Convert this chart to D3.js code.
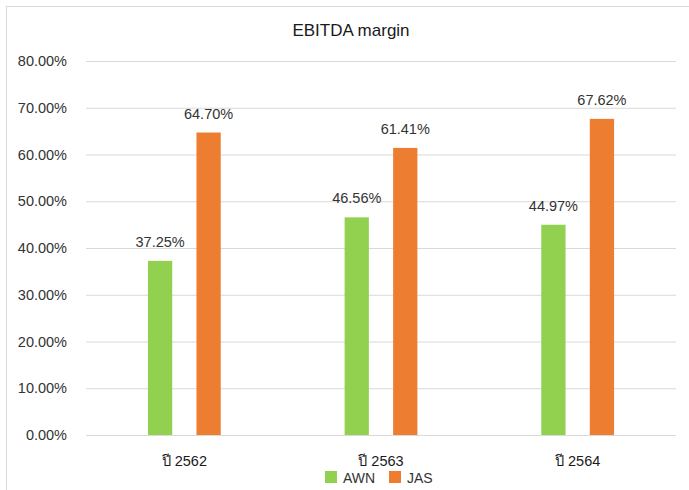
<!DOCTYPE html>
<html>
<head>
<meta charset="utf-8">
<script src="https://cdn.jsdelivr.net/npm/d3@7"></script>
<style>
  body { margin: 0; background: #fff; }
  svg text { font-family: "Liberation Sans", Arial, sans-serif; fill: #333333; }
</style>
</head>
<body>
<svg id="chart" width="689" height="490"></svg>
<script>
// chart data
const categories = ["ปี 2562", "ปี 2563", "ปี 2564"];
const seriesNames = ["AWN", "JAS"];
const awnValues = [37.25, 46.56, 44.97];
const jasValues = [64.70, 61.41, 67.62];
const yTicks = [0, 10, 20, 30, 40, 50, 60, 70, 80];
const colors = { AWN: "#92d050", JAS: "#ed7d31" };

const svg = d3.select("#chart");
const margin = { left: 86, right: 13, top: 61, bottom: 55 };
const W = 689, H = 490;

// outer frame (top + left edge only visible)
svg.append("line").attr("x1", 6).attr("x2", W).attr("y1", 6.5).attr("y2", 6.5)
    .attr("stroke", "#d9d9d9");
svg.append("line").attr("x1", 6.5).attr("x2", 6.5).attr("y1", 6).attr("y2", H)
    .attr("stroke", "#d9d9d9");

const x0 = d3.scaleBand()
    .domain(categories)
    .range([margin.left, W - margin.right])
    .paddingInner(0.63).paddingOuter(0.315);

const x1 = d3.scaleBand()
    .domain(seriesNames)
    .range([0, x0.bandwidth()])
    .paddingInner(0.5);

const y = d3.scaleLinear().domain([0, 80]).range([H - margin.bottom, margin.top]);

// gridlines
const yAxis = d3.axisLeft(y).tickValues(yTicks)
    .tickSize(-(W - margin.left - margin.right))
    .tickPadding(19)
    .tickFormat(d => d.toFixed(2) + "%");

const gy = svg.append("g").attr("transform", `translate(${margin.left},0)`).call(yAxis);
gy.select(".domain").remove();
gy.selectAll(".tick line").attr("stroke", "#d9d9d9");
gy.selectAll(".tick text").attr("font-size", 14.5).style("fill", "#333333");

const rows = categories.map((c, i) => ({ cat: c, AWN: awnValues[i], JAS: jasValues[i] }));

const groups = svg.append("g").selectAll("g")
    .data(rows).enter().append("g")
    .attr("transform", d => `translate(${x0(d.cat)},0)`);

groups.selectAll("rect")
    .data(d => seriesNames.map(s => ({ s, v: d[s] })))
    .enter().append("rect")
    .attr("x", d => x1(d.s))
    .attr("y", d => y(d.v))
    .attr("width", x1.bandwidth())
    .attr("height", d => y(0) - y(d.v))
    .attr("fill", d => colors[d.s]);

groups.selectAll("text.lbl")
    .data(d => seriesNames.map(s => ({ s, v: d[s] })))
    .enter().append("text")
    .attr("class", "lbl")
    .attr("x", d => x1(d.s) + x1.bandwidth() / 2)
    .attr("y", d => y(d.v) - 14)
    .attr("text-anchor", "middle")
    .attr("font-size", 14.5)
    .text(d => d.v.toFixed(2) + "%");

// category labels
svg.append("g").selectAll("text")
    .data(categories).enter().append("text")
    .attr("x", d => x0(d) + x0.bandwidth() / 2)
    .attr("y", 466)
    .attr("text-anchor", "middle")
    .attr("font-size", 14.5)
    .style("fill", "#1a1a1a")
    .text(d => d);

// title
svg.append("text")
    .attr("x", 351).attr("y", 36)
    .attr("text-anchor", "middle")
    .attr("font-size", 17)
    .style("fill", "#1a1a1a")
    .text("EBITDA margin");

// legend
const legendX = [325, 389];
const lg = svg.append("g").selectAll("g")
    .data(seriesNames).enter().append("g")
    .attr("transform", (d, i) => `translate(${legendX[i]},471)`);
lg.append("rect").attr("width", 12).attr("height", 12).attr("fill", d => colors[d]);
lg.append("text").attr("x", 18).attr("y", 11.5).attr("font-size", 14).text(d => d);
</script>
</body>
</html>
